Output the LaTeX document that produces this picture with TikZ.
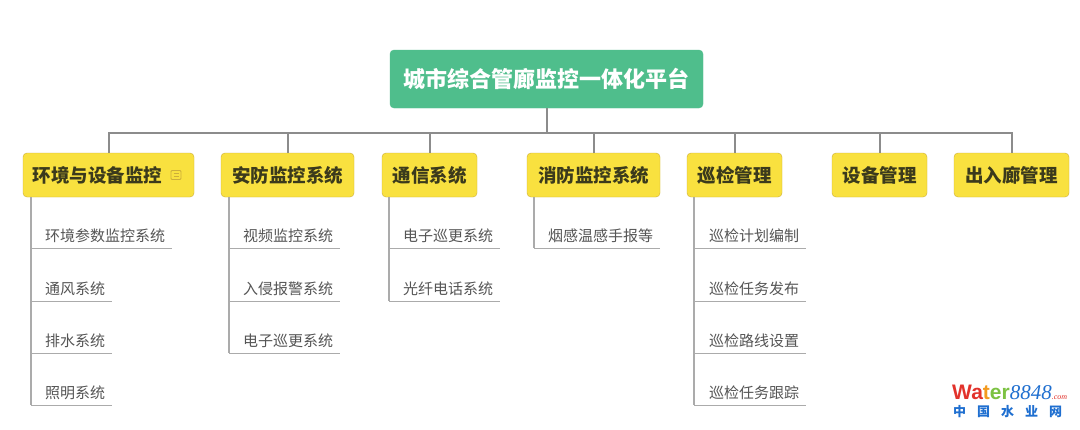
\documentclass[tikz,border=0pt]{standalone}
\usepackage{fontspec}
\setmainfont{Noto Sans CJK SC}
\newfontfamily\latinsans{Liberation Sans}
\newfontfamily\latinserif{Liberation Serif}
\definecolor{rootgreen}{HTML}{4FBE8C}
\definecolor{catyellow}{HTML}{F9E13F}
\definecolor{catborder}{HTML}{CDAE3A}
\definecolor{cattext}{HTML}{3B3A1C}
\definecolor{leaftext}{HTML}{555555}
\definecolor{leafline}{HTML}{ABABAB}
\definecolor{busline}{HTML}{8C8C8C}
\definecolor{wmred}{HTML}{E2322B}
\definecolor{wmorange}{HTML}{F39A1E}
\definecolor{wmgreen}{HTML}{7CC242}
\definecolor{wmblue}{HTML}{1F6FD0}
\tikzset{
        root/.style={draw=rootgreen, fill=rootgreen, rounded corners=4pt, text=white, font=\fontsize{22}{24}\selectfont\bfseries, minimum width=313pt, minimum height=58pt, inner sep=0pt},
        cat/.style={draw=catborder, fill=catyellow, rounded corners=4pt, text=cattext, font=\fontsize{18.5}{20}\selectfont\bfseries, minimum height=44pt, inner sep=0pt},
        item/.style={anchor=base west, inner sep=0pt, text depth=7pt, text=leaftext, font=\fontsize{15}{17}\selectfont},
        bus/.style={draw=busline, line width=2pt},
        leaf/.style={draw=leafline, line width=1.4pt},
}
\begin{document}
\begin{tikzpicture}[x=1pt, y=-1pt]
        \useasboundingbox[fill=white] (0,0) rectangle (1080,429);
        \node[root] (root) at (546.5,79) {城市综合管廊监控一体化平台};
        \coordinate (hub) at (546.5,133);
        \node[cat, minimum width=171pt] (c1) at (108.5,175) {环境与设备监控\kern22pt};
        \node[cat, minimum width=133pt] (c2) at (287.5,175) {安防监控系统};
        \node[cat, minimum width=95pt] (c3) at (429.5,175) {通信系统};
        \node[cat, minimum width=133pt] (c4) at (593.5,175) {消防监控系统};
        \node[cat, minimum width=95pt] (c5) at (734.5,175) {巡检管理};
        \node[cat, minimum width=95pt] (c6) at (879.5,175) {设备管理};
        \node[cat, minimum width=115pt] (c7) at (1011.5,175) {出入廊管理};
        \draw[bus] (root.south) -- (hub);
        \draw[bus] (c1.north) |- (hub);
        \draw[bus] (c2.north) |- (hub);
        \draw[bus] (c3.north) |- (hub);
        \draw[bus] (c4.north) |- (hub);
        \draw[bus] (c5.north) |- (hub);
        \draw[bus] (c6.north) |- (hub);
        \draw[bus] (c7.north) |- (hub);
        \draw[catborder, line width=0.8pt, rounded corners=1pt] (171,170.5) rectangle (181,179.5);
        \draw[catborder, line width=0.6pt] (173.5,173.5) -- (178.5,173.5) (173.5,176.5) -- (178.5,176.5);
        \coordinate (s1) at (31,197);
        \coordinate (s2) at (229,197);
        \coordinate (s3) at (389,197);
        \coordinate (s4) at (534,197);
        \coordinate (s5) at (694,197);
        \node[item] (e1) at (45,241) {环境参数监控系统};
        \node[item] (e2) at (45,294) {通风系统};
        \node[item] (e3) at (45,346) {排水系统};
        \node[item] (e4) at (45,398) {照明系统};
        \node[item] (a1) at (243,241) {视频监控系统};
        \node[item] (a2) at (243,294) {入侵报警系统};
        \node[item] (a3) at (243,346) {电子巡更系统};
        \node[item] (t1) at (403,241) {电子巡更系统};
        \node[item] (t2) at (403,294) {光纤电话系统};
        \node[item] (f1) at (548,241) {烟感温感手报等};
        \node[item] (x1) at (709,241) {巡检计划编制};
        \node[item] (x2) at (709,294) {巡检任务发布};
        \node[item] (x3) at (709,346) {巡检路线设置};
        \node[item] (x4) at (709,398) {巡检任务跟踪};
        \draw[leaf] (s1) -- (s1 |- e4.south);
        \draw[leaf] (s2) -- (s2 |- a3.south);
        \draw[leaf] (s3) -- (s3 |- t2.south);
        \draw[leaf] (s4) -- (s4 |- f1.south);
        \draw[leaf] (s5) -- (s5 |- x4.south);
        \draw[leaf] (s1 |- e1.south) -- ([xshift=7pt]e1.south east);
        \draw[leaf] (s1 |- e2.south) -- ([xshift=7pt]e2.south east);
        \draw[leaf] (s1 |- e3.south) -- ([xshift=7pt]e3.south east);
        \draw[leaf] (s1 |- e4.south) -- ([xshift=7pt]e4.south east);
        \draw[leaf] (s2 |- a1.south) -- ([xshift=7pt]a1.south east);
        \draw[leaf] (s2 |- a2.south) -- ([xshift=7pt]a2.south east);
        \draw[leaf] (s2 |- a3.south) -- ([xshift=7pt]a3.south east);
        \draw[leaf] (s3 |- t1.south) -- ([xshift=7pt]t1.south east);
        \draw[leaf] (s3 |- t2.south) -- ([xshift=7pt]t2.south east);
        \draw[leaf] (s4 |- f1.south) -- ([xshift=7pt]f1.south east);
        \draw[leaf] (s5 |- x1.south) -- ([xshift=7pt]x1.south east);
        \draw[leaf] (s5 |- x2.south) -- ([xshift=7pt]x2.south east);
        \draw[leaf] (s5 |- x3.south) -- ([xshift=7pt]x3.south east);
        \draw[leaf] (s5 |- x4.south) -- ([xshift=7pt]x4.south east);
        \node[anchor=base west, inner sep=0pt] (wm) at (952,399) {\latinsans\bfseries\fontsize{21}{22}\selectfont\color{wmred}Wa\color{wmorange}t\color{wmgreen}er\latinserif\itshape\mdseries\color{wmblue}8848\color{wmred}\fontsize{8}{9}\selectfont.com};
        \node[anchor=north west, inner sep=0pt, text=wmblue, font=\fontsize{13}{14}\selectfont\bfseries] (wmcn) at (953,405) {中\hspace{11pt}国\hspace{11pt}水\hspace{11pt}业\hspace{11pt}网};
\end{tikzpicture}
\end{document}
